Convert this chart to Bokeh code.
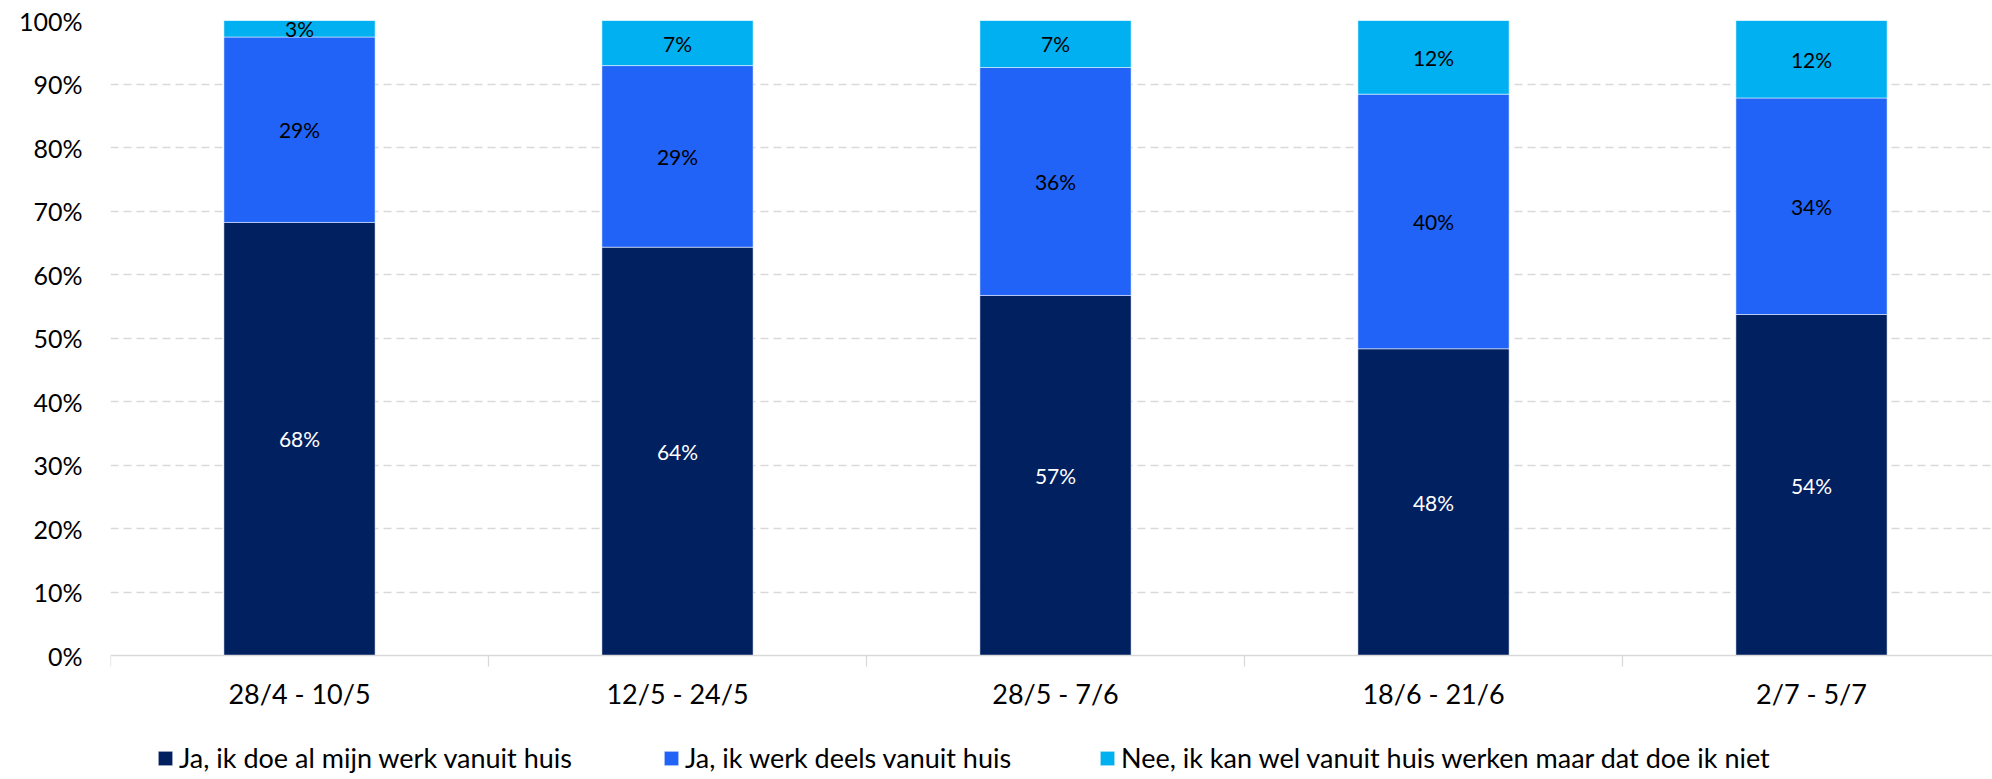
from bokeh.plotting import figure
from bokeh.models import ColumnDataSource, Range1d, FixedTicker, Legend, LegendItem, Span
from bokeh.core.properties import value
from bokeh.embed import file_html
from bokeh.resources import INLINE

# ---- data ----
categories = ["28/4 - 10/5", "12/5 - 24/5", "28/5 - 7/6", "18/6 - 21/6", "2/7 - 5/7"]
series_names = [
    "Ja, ik doe al mijn werk vanuit huis",
    "Ja, ik werk deels vanuit huis",
    "Nee, ik kan wel vanuit huis werken maar dat doe ik niet",
]
volledig = [68.2, 64.3, 56.7, 48.3, 53.7]   # Ja, ik doe al mijn werk vanuit huis
deels = [29.2, 28.6, 35.9, 40.1, 34.1]      # Ja, ik werk deels vanuit huis
niet = [2.6, 7.1, 7.4, 11.6, 12.2]          # Nee, ik kan wel ... doe ik niet
y_ticks = [0, 10, 20, 30, 40, 50, 60, 70, 80, 90, 100]

# ---- styling / layout ----
colors = ["#002060", "#2163F7", "#00B0F0"]
label_colors = ["#FFFFFF", "#000000", "#000000"]
FONT = "Lato"
grid_color = "#D9D9D9"
PX = 6.35                     # pixels per percent point (0% at y=655, 100% at y=20)
BOTTOM = -124 / PX            # frame runs down to the page bottom

x = [i + 0.5 for i in range(len(categories))]
bounds = list(range(len(categories) + 1))
keys = ["volledig", "deels", "niet"]
src = ColumnDataSource(dict(x=x, volledig=volledig, deels=deels, niet=niet))

p = figure(width=1992, height=779, output_backend="svg", toolbar_location=None,
           x_range=Range1d(0, 1882 / 378), y_range=Range1d(BOTTOM, 100),
           min_border_left=110, min_border_right=0, min_border_top=20,
           min_border_bottom=0)
p.outline_line_color = None
p.background_fill_color = "white"
p.border_fill_color = "white"
p.xaxis.visible = False

renderers = p.vbar_stack(keys, x="x", width=0.4, fill_color=colors,
                         line_color="white", line_width=1, line_alpha=0.5,
                         source=src)

# data labels
series = [volledig, deels, niet]
bottoms = [0.0] * len(categories)
for vals, tc in zip(series, label_colors):
    ys = [b + v / 2 for b, v in zip(bottoms, vals)]
    txt = [f"{round(v)}%" for v in vals]
    lsrc = ColumnDataSource(dict(x=x, y=ys, t=txt))
    p.text(x="x", y="y", text="t", source=lsrc, text_align="center",
           text_baseline="middle", text_color=tc,
           text_font=value(FONT), text_font_size="21px")
    bottoms = [b + v for b, v in zip(bottoms, vals)]

# category axis (line, boundary ticks, labels)
p.add_layout(Span(location=0, dimension="width", line_color=grid_color, line_width=1.3))
p.segment(x0=bounds, y0=[0] * len(bounds), x1=bounds, y1=[-11 / PX] * len(bounds),
          line_color=grid_color, line_width=1.3)
p.text(x=x, y=[-38 / PX] * len(x), text=categories, text_align="center",
       text_baseline="middle", text_color="#000000",
       text_font=value(FONT), text_font_size="27px")

# y axis
p.yaxis.ticker = FixedTicker(ticks=y_ticks)
p.yaxis.major_label_overrides = {t: f"{t}%" for t in y_ticks}
p.yaxis.axis_line_color = None
p.yaxis.major_tick_line_color = None
p.yaxis.minor_tick_line_color = None
p.yaxis.major_tick_out = 0
p.yaxis.major_tick_in = 0
p.yaxis.major_label_standoff = 28
p.yaxis.major_label_text_font = FONT
p.yaxis.major_label_text_font_size = "25px"
p.yaxis.major_label_text_color = "#000000"

# grid
p.xgrid.visible = False
p.ygrid.ticker = FixedTicker(ticks=y_ticks[1:])
p.ygrid.grid_line_color = grid_color
p.ygrid.grid_line_dash = "8 5"
p.ygrid.grid_line_width = 1.3

# legends (one per item, placed like the reference)
legend_x = [46, 552, 988]
for r, name, lx in zip(renderers, series_names, legend_x):
    leg = Legend(items=[LegendItem(label=name, renderers=[r])],
                 location=(lx, 5), orientation="horizontal",
                 glyph_width=18, glyph_height=18, label_standoff=5,
                 padding=0, margin=0, spacing=0,
                 border_line_color=None, background_fill_alpha=0,
                 label_text_font=FONT, label_text_font_size="27px",
                 label_text_color="#000000")
    p.add_layout(leg, "center")

open("out.html", "w").write(file_html(p, INLINE))
